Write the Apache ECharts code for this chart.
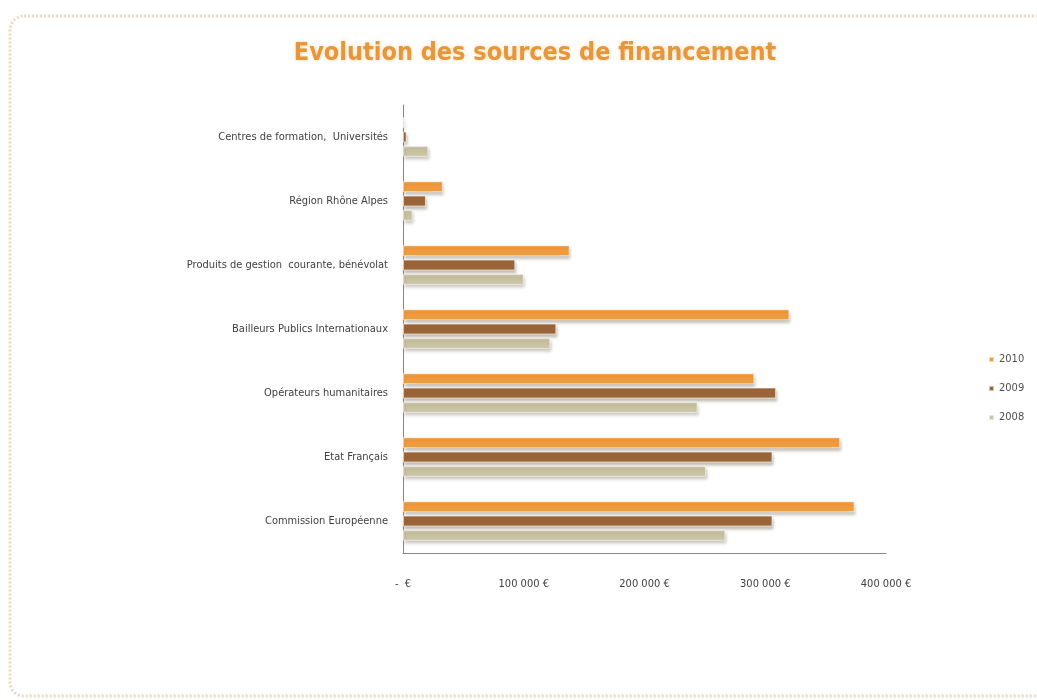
<!DOCTYPE html>
<html>
<head>
<meta charset="utf-8">
<script src="https://cdn.jsdelivr.net/npm/echarts@6/dist/echarts.min.js"></script>
<style>
html,body{margin:0;padding:0;background:#fff;}
#c{width:1037px;height:700px;}
</style>
</head>
<body>
<div id="c"></div>
<script>
var categories = ["Commission Européenne", "Etat Français", "Opérateurs humanitaires", "Bailleurs Publics Internationaux", "Produits de gestion  courante, bénévolat", "Région Rhône Alpes", "Centres de formation,  Universités"];
var v2010 = [374000, 362000, 291000, 320000, 138000, 33000, 1000];
var v2009 = [306000, 306000, 309000, 127000, 93000, 19000, 3000];
var v2008 = [267000, 251000, 244000, 122000, 100000, 8000, 21000];
var xTicks = [0, 100000, 200000, 300000, 400000];

var chart = echarts.init(document.getElementById('c'));
var FONT = 'DejaVu Sans Condensed, Liberation Sans, sans-serif';
function fmt(v){
  if (v === 0) return '-  €';
  var s = String(v);
  return s.replace(/\B(?=(\d{3})+(?!\d))/g, ' ') + ' €';
}
function bar(name, data, color){
  return {
    name: name, type: 'bar', data: data, barWidth: 11, barGap: '30%',
    itemStyle: {color: color, shadowColor: 'rgba(120,110,90,0.45)', shadowBlur: 3, shadowOffsetX: 1, shadowOffsetY: 3,
      borderColor: 'rgba(255,255,255,0.6)', borderWidth: 1}
  };
}
chart.setOption({
  animation: false,
  backgroundColor: '#ffffff',
  title: {
    text: 'Evolution des sources de financement',
    left: 530, top: 36, textAlign: 'center',
    textStyle: {color: '#E8963A', fontSize: 25, fontWeight: 'bold', fontFamily: FONT,
      textShadowColor: 'rgba(240,200,140,0.6)', textShadowBlur: 4}
  },
  graphic: [{
    type: 'rect', silent: true, z: -1,
    shape: {x: 10, y: 16, width: 1060, height: 680, r: 14},
    style: {fill: 'none', stroke: '#EAD9BE', lineWidth: 3, lineDash: [2, 2]}
  }],
  legend: {
    data: ['2010', '2009', '2008'], orient: 'vertical', left: 983, top: 349,
    itemWidth: 5, itemHeight: 5, itemGap: 18, icon: 'rect',
    textStyle: {color: '#505050', fontSize: 11, fontFamily: FONT}
  },
  grid: {left: 403, right: 151, top: 105, bottom: 147, containLabel: false},
  xAxis: {
    type: 'value', min: 0, max: 400000, interval: 100000,
    axisLine: {show: true, lineStyle: {color: '#868686'}},
    axisTick: {show: false},
    splitLine: {show: false},
    axisLabel: {formatter: fmt, color: '#404040', fontSize: 11, margin: 26, fontFamily: FONT}
  },
  yAxis: {
    type: 'category', data: categories,
    axisLine: {show: true, lineStyle: {color: '#868686'}},
    axisTick: {show: false},
    axisLabel: {color: '#404040', fontSize: 11, margin: 15, fontFamily: FONT}
  },
  series: [
    bar('2010', v2010, '#F29B3C'),
    bar('2009', v2009, '#9A6538'),
    bar('2008', v2008, '#C9C4A5')
  ]
});
</script>
</body>
</html>
